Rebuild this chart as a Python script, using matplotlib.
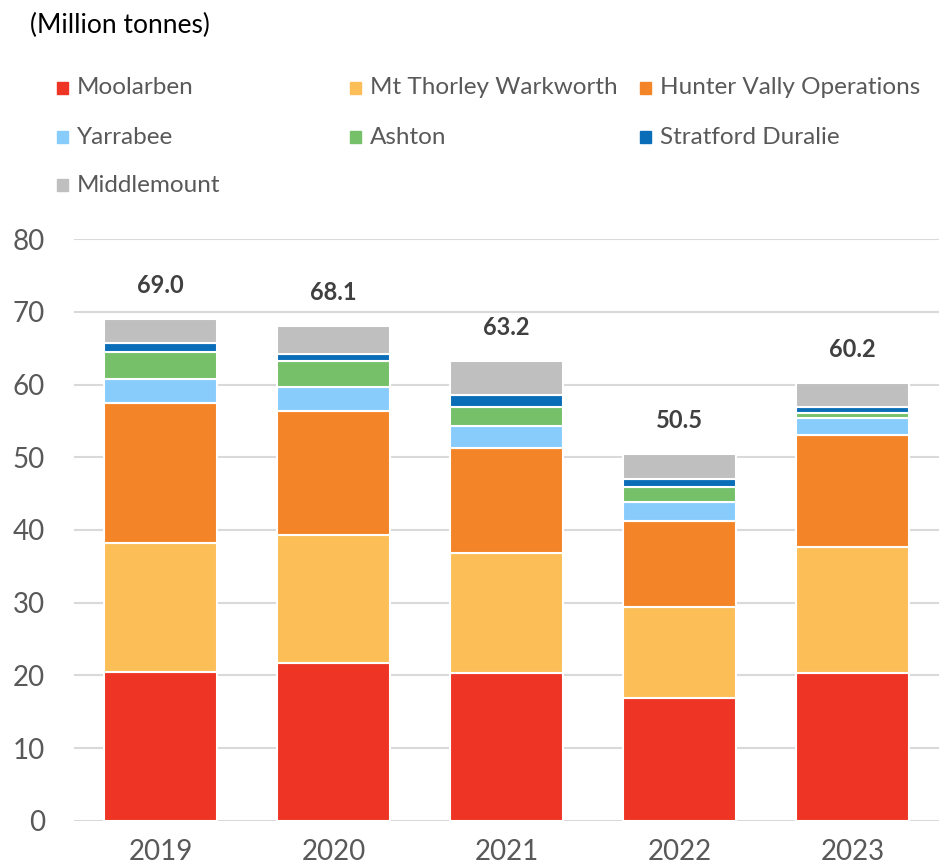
import matplotlib.pyplot as plt
from matplotlib.patches import Rectangle
import numpy as np

plt.rcParams['font.family'] = ['Lato', 'DejaVu Sans']

# данные (млн тонн)
years = ['2019', '2020', '2021', '2022', '2023']
moolarben = [20.5, 21.7, 20.3, 16.9, 20.3]
mt_thorley = [17.7, 17.6, 16.6, 12.5, 17.4]
hunter_valley = [19.2, 17.0, 14.4, 11.9, 15.3]
yarrabee = [3.4, 3.3, 3.0, 2.55, 2.4]
ashton = [3.6, 3.6, 2.6, 2.1, 0.7]
stratford = [1.3, 1.0, 1.6, 1.05, 0.85]
middlemount = [3.3, 3.9, 4.7, 3.45, 3.25]
totals = [69.0, 68.1, 63.2, 50.5, 60.2]

names = ['Moolarben', 'Mt Thorley Warkworth', 'Hunter Vally Operations',
         'Yarrabee', 'Ashton', 'Stratford Duralie', 'Middlemount']
series = [moolarben, mt_thorley, hunter_valley, yarrabee, ashton, stratford, middlemount]
colors = ['#EE3424', '#FCBF57', '#F38428', '#88CCFC', '#75C068', '#0A6DB8', '#BFBFBF']

fig = plt.figure(figsize=(9.39, 8.66), dpi=100)
ax = fig.add_axes([0.079, 0.052, 0.921, 0.672])

x = np.arange(len(years))
bottom = np.zeros(len(years))
for vals, c in zip(series, colors):
    ax.bar(x, vals, width=0.655, bottom=bottom, color=c, edgecolor='white', linewidth=1.5, zorder=3)
    bottom += np.array(vals)

# подписи итогов
for xi, t in zip(x, totals):
    ax.annotate(f'{t:.1f}', (xi, t), xytext=(0, 24), textcoords='offset points',
                ha='center', va='center', fontsize=17, fontweight='bold', color='#404040')

ax.set_xlim(-0.5, len(years) - 0.5)
ax.set_ylim(0, 80)
ax.set_yticks(range(0, 81, 10))
ax.set_xticks(x)
ax.set_xticklabels(years)
ax.tick_params(axis='both', length=0, labelsize=20, colors='#595959')
ax.tick_params(axis='y', pad=21)
ax.tick_params(axis='x', pad=13)
ax.grid(axis='y', color='#D9D9D9', linewidth=1.5, zorder=0)
for s in ax.spines.values():
    s.set_visible(False)

fig.text(30 / 939, 1 - 25 / 866, '(Million tonnes)', fontsize=19, color='black', va='center', ha='left')

# легенда вручную, по строкам как в Excel
col_x = [57, 350, 640]
row_y = [88, 137, 185]
for i, (n, c) in enumerate(zip(names, colors)):
    r, k = divmod(i, 3)
    mx = col_x[k] / 939
    my = 1 - row_y[r] / 866
    fig.patches.append(Rectangle((mx, my - 6 / 866), 11 / 939, 12 / 866,
                                 transform=fig.transFigure, color=c))
    fig.text(mx + 20 / 939, my, n, fontsize=17.5, color='#595959', va='center', ha='left')

fig.savefig('out.png', dpi=100)
